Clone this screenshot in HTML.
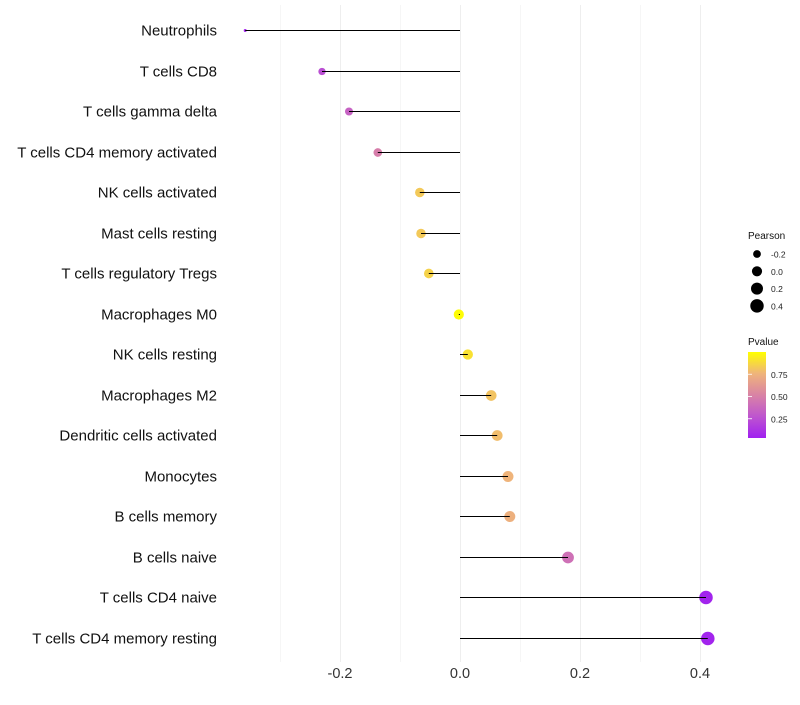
<!DOCTYPE html>
<html><head><meta charset="utf-8"><style>
body{margin:0;background:#fff;font-family:"Liberation Sans",sans-serif;}
</style></head><body>
<svg id="c" width="800" height="700" xmlns="http://www.w3.org/2000/svg">
<defs><linearGradient id="pg" x1="0" y1="1" x2="0" y2="0">
<stop offset="0" stop-color="#A020F0"/><stop offset="0.25" stop-color="#BE55CF"/><stop offset="0.5" stop-color="#D983A5"/><stop offset="0.75" stop-color="#EFB47B"/><stop offset="1" stop-color="#FFFF00"/></linearGradient></defs>
<g id="grid"></g><g id="dots"></g><g id="marks"></g><g id="labels"></g><g id="legend"></g>
</svg>
<script>
const categories=["Neutrophils","T cells CD8","T cells gamma delta","T cells CD4 memory activated","NK cells activated","Mast cells resting","T cells regulatory  Tregs ","Macrophages M0","NK cells resting","Macrophages M2","Dendritic cells activated","Monocytes","B cells memory","B cells naive","T cells CD4 naive","T cells CD4 memory resting"];
const pearson=[-0.358,-0.23,-0.185,-0.137,-0.067,-0.065,-0.052,-0.002,0.013,0.052,0.062,0.08,0.083,0.18,0.41,0.413];
const pvalue=[0.03,0.22,0.32,0.47,0.82,0.82,0.85,0.99,0.9,0.8,0.78,0.75,0.73,0.4,0.02,0.02];
const xTicks=[-0.2,0,0.2,0.4];
const xTickLabels=["-0.2","0.0","0.2","0.4"];
const NS="http://www.w3.org/2000/svg";
const x=v=>460+600*v;
const y=i=>Math.round(30+i*40.53)+0.5;
const r=v=>1.5+6*Math.sqrt(Math.max(0,v+0.358));
function col(p){const s=[[0,[160,32,240]],[0.25,[190,85,207]],[0.5,[217,131,165]],[0.75,[239,180,123]],[1,[255,255,0]]];
for(let k=1;k<s.length;k++){if(p<=s[k][0]){const t=(p-s[k-1][0])/(s[k][0]-s[k-1][0]);const a=s[k-1][1],b=s[k][1];return `rgb(${a.map((c,j)=>Math.round(c+(b[j]-c)*t)).join(',')})`;}}return 'rgb(255,255,0)';}
function mk(tag,at,par){const e=document.createElementNS(NS,tag);for(const k in at)e.setAttribute(k,at[k]);document.getElementById(par).appendChild(e);return e;}
[-0.3,-0.1,0.1,0.3].forEach(v=>{const l=mk('line',{x1:x(v)+0.5,x2:x(v)+0.5,y1:5,y2:662,stroke:'#f6f6f6','stroke-width':1},'grid');

});
xTicks.forEach((v,i)=>{const l=mk('line',{x1:x(v)+0.5,x2:x(v)+0.5,y1:5,y2:662,stroke:'#eeeeee','stroke-width':1},'grid');


const t=mk('text',{x:x(v),y:678,'text-anchor':'middle','font-size':14.5,fill:'#333'},'labels');t.textContent=xTickLabels[i];

});
categories.forEach((c,i)=>{
const t=mk('text',{x:217,y:y(i)+5,'text-anchor':'end','font-size':15,fill:'#111','xml:space':'preserve'},'labels');t.textContent=c;


const d=mk('circle',{cx:x(pearson[i]),cy:y(i),r:r(pearson[i]),fill:col(pvalue[i])},'dots');


const l=mk('line',{x1:x(0),x2:x(pearson[i]),y1:y(i),y2:y(i),stroke:'#000','stroke-width':1},'marks');

});
const lt=mk('text',{x:748,y:239,'font-size':10,fill:'#111'},'legend');lt.textContent='Pearson';


[-0.2,0,0.2,0.4].forEach((v,i)=>{const cy=254+i*17.3;
const c=mk('circle',{cx:757,cy:cy,r:r(v),fill:'#000'},'legend');


const t=mk('text',{x:771,y:cy+3.5,'font-size':8.5,fill:'#222'},'legend');t.textContent=['-0.2','0.0','0.2','0.4'][i];

});
const pt=mk('text',{x:748,y:345,'font-size':10,fill:'#111'},'legend');pt.textContent='Pvalue';


const cb=mk('rect',{x:748,y:352,width:18,height:86,fill:'url(#pg)'},'legend');


[0.75,0.5,0.25].forEach(v=>{const yy=441-89*v;
const tk=mk('line',{x1:748,x2:752,y1:yy,y2:yy,stroke:'#fff','stroke-width':0.8},'legend');


const t=mk('text',{x:771,y:yy+3.5,'font-size':8.5,fill:'#222'},'legend');t.textContent=v.toFixed(2);

});
</script>
</body></html>
